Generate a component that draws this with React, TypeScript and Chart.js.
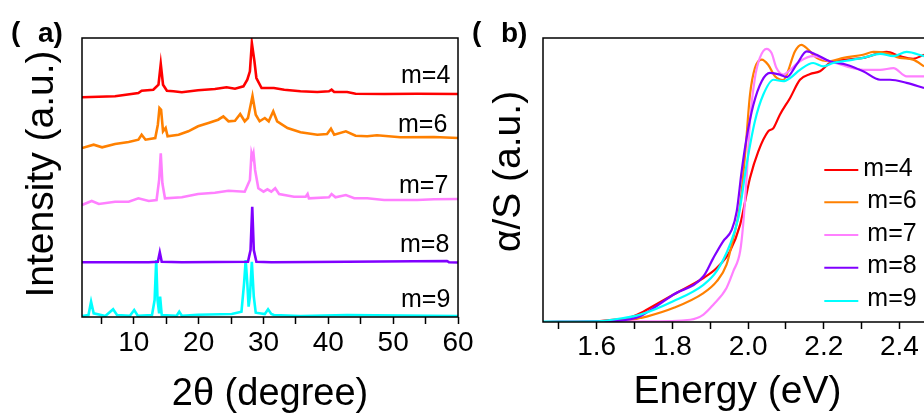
import React, { useEffect, useRef } from "react";
import { Chart, registerables } from "chart.js";

Chart.register(...registerables);

// ---------- shared ----------
const seriesLabels = ["m=4", "m=6", "m=7", "m=8", "m=9"];
const seriesColors = ["#ff0000", "#ff8000", "#ff80ff", "#8000ff", "#00ffff"];

// ---------- panel (a): XRD, 2θ (degree) vs intensity (a.u.) ----------
const xrdTheta_m4 = [2, 7.1, 10.7, 11.2, 13.0, 13.8, 14.15, 14.5, 15.1, 16.1, 17.4, 19.9, 22.5, 24.3, 25.6, 26.9, 27.5, 27.9, 28.2, 28.6, 28.9, 29.7, 31.6, 33.2, 35.7, 38.3, 40.1, 40.5, 40.9, 42.9, 44.2, 48.6, 53.7, 60];
const xrdInt_m4 = [0.7, 1.7, 5, 7.3, 8.3, 13.3, 34, 13.3, 7.3, 6.7, 5.7, 7.7, 9, 10.7, 9.3, 11.7, 18.3, 26.7, 55, 36.7, 20, 10, 10, 8.3, 6.7, 6, 6.7, 8.3, 6, 6, 4.3, 4, 4.3, 4];

const xrdTheta_m6 = [2, 3.8, 5.1, 7.1, 9.2, 10.7, 11.2, 11.8, 13.3, 13.7, 13.95, 14.2, 14.5, 14.9, 15.2, 16.9, 18.4, 19.9, 21.5, 23.0, 23.8, 24.6, 25.6, 26.4, 27.1, 27.6, 28.3, 28.8, 29.4, 30.2, 30.8, 31.5, 32.1, 33.7, 35.7, 38.3, 39.8, 40.4, 40.9, 42.7, 44.2, 46, 47.5, 51.1, 56.3, 60];
const xrdInt_m6 = [0, 3.3, 0.7, 4, 6, 8.3, 13.3, 8.3, 10, 23.3, 40, 38.3, 16.7, 20, 11.7, 13.3, 16.7, 21.7, 25, 28.3, 31.7, 26.7, 27.3, 34, 26.7, 30, 52, 33.3, 26.7, 30, 26.7, 36.7, 26.7, 20, 15.7, 13.3, 14, 19.3, 13.3, 16.7, 12.3, 11.7, 12.7, 10.7, 11, 10];

const xrdTheta_m7 = [2, 3.5, 4.6, 7.1, 9.2, 10.7, 12.3, 13.5, 13.9, 14.15, 14.4, 14.8, 17.4, 19.9, 22.5, 24.6, 27.1, 27.9, 28.15, 28.3, 28.45, 28.7, 29.2, 30, 30.6, 31.2, 31.8, 32.4, 34.7, 36.5, 36.8, 37, 40.1, 40.5, 41.1, 42.7, 44, 46, 48.6, 53.7, 56.3, 60];
const xrdInt_m7 = [0, 4, 1, 3.3, 3.3, 6.7, 4, 5, 25, 51.7, 21.7, 6.7, 7.7, 11, 12.3, 14.3, 13.3, 25, 51.7, 48, 51.7, 35, 16.7, 13.3, 15.7, 13.3, 16.7, 11, 8.3, 8.3, 11, 6.7, 7.7, 11, 7.7, 10, 6.7, 6.7, 5, 5, 5.7, 6];

const xrdTheta_m8 = [2, 12.3, 13.7, 14.0, 14.3, 17.4, 27.6, 28.0, 28.26, 28.5, 28.9, 31.2, 42.9, 58.3, 58.6, 60];
const xrdInt_m8 = [0.2, 0.2, 0.8, 10.2, 0.8, 0.2, 0.8, 12.5, 55.8, 12.5, 0.8, 0.2, 0.8, 1.5, 0.3, 0];

const xrdTheta_m9 = [2, 3.0, 3.4, 3.8, 5.6, 6.8, 7.4, 9.4, 10.05, 10.6, 12.8, 13.2, 13.45, 13.65, 13.9, 14.05, 14.3, 16.6, 17.0, 17.4, 19.9, 25.1, 26.6, 27.0, 27.25, 27.5, 27.7, 27.9, 28.2, 28.5, 28.8, 30.2, 30.7, 31.2, 31.6, 35.7, 42.9, 60];
const xrdInt_m9 = [0, 1, 14.3, 2.7, 0, 6.7, 1, 0.3, 6, 0.3, 1, 16, 56, 16, 2.7, 19.3, 1, 0.3, 4.3, 0.3, 1.3, 2, 4.3, 32.7, 56, 32.7, 9.3, 19.3, 54.3, 19.3, 3.3, 2, 6.7, 2, 1, 0, 1, 0];

const xrdOffsets = [219, 169, 112, 54.5, 1];
const xrdTicks = [5, 10, 15, 20, 25, 30, 35, 40, 45, 50, 55, 60];

// ---------- panel (b): absorption, Energy (eV) vs α/S (a.u.) ----------
const absEnergy_m4 = [1.458, 1.6, 1.635, 1.68, 1.723, 1.732, 1.802, 1.882, 1.917, 1.952, 1.979, 2.005, 2.027, 2.053, 2.067, 2.084, 2.111, 2.137, 2.164, 2.19, 2.216, 2.26, 2.304, 2.366, 2.401, 2.436, 2.465];
const absValue_m4 = [0, 0.002, 0.007, 0.012, 0.036, 0.043, 0.096, 0.155, 0.19, 0.249, 0.343, 0.507, 0.601, 0.671, 0.683, 0.73, 0.789, 0.853, 0.873, 0.883, 0.912, 0.924, 0.93, 0.951, 0.936, 0.927, 0.941];

const absEnergy_m6 = [1.458, 1.62, 1.679, 1.715, 1.732, 1.802, 1.882, 1.917, 1.943, 1.961, 1.979, 1.992, 2.005, 2.018, 2.036, 2.053, 2.071, 2.093, 2.102, 2.124, 2.141, 2.159, 2.181, 2.216, 2.252, 2.304, 2.331, 2.366, 2.401, 2.436, 2.465];
const absValue_m6 = [0, 0, 0.005, 0.014, 0.019, 0.049, 0.102, 0.143, 0.202, 0.296, 0.413, 0.589, 0.8, 0.894, 0.924, 0.906, 0.865, 0.852, 0.871, 0.953, 0.976, 0.959, 0.93, 0.918, 0.93, 0.941, 0.951, 0.947, 0.93, 0.924, 0.9];

const absEnergy_m7 = [1.458, 1.715, 1.847, 1.882, 1.908, 1.943, 1.961, 1.979, 1.987, 1.996, 2.005, 2.018, 2.031, 2.049, 2.062, 2.075, 2.093, 2.102, 2.137, 2.172, 2.216, 2.26, 2.304, 2.349, 2.384, 2.419, 2.465];
const absValue_m7 = [0, 0.002, 0.008, 0.026, 0.061, 0.12, 0.179, 0.249, 0.343, 0.507, 0.707, 0.859, 0.93, 0.962, 0.947, 0.894, 0.871, 0.877, 0.918, 0.936, 0.918, 0.9, 0.888, 0.888, 0.894, 0.865, 0.865];

const absEnergy_m8 = [1.458, 1.662, 1.715, 1.74, 1.802, 1.882, 1.908, 1.934, 1.957, 1.97, 1.983, 1.996, 2.014, 2.036, 2.058, 2.084, 2.102, 2.128, 2.155, 2.181, 2.216, 2.26, 2.304, 2.349, 2.375, 2.419, 2.465];
const absValue_m8 = [0, 0.005, 0.02, 0.04, 0.096, 0.161, 0.225, 0.284, 0.325, 0.39, 0.531, 0.648, 0.765, 0.848, 0.877, 0.871, 0.862, 0.906, 0.953, 0.941, 0.918, 0.906, 0.883, 0.853, 0.853, 0.842, 0.824];

const absEnergy_m9 = [1.458, 1.6, 1.635, 1.715, 1.802, 1.882, 1.917, 1.952, 1.974, 1.996, 2.018, 2.04, 2.067, 2.093, 2.111, 2.137, 2.172, 2.199, 2.225, 2.26, 2.304, 2.349, 2.384, 2.419, 2.465];
const absValue_m9 = [0.001, 0.002, 0.007, 0.026, 0.073, 0.131, 0.179, 0.272, 0.366, 0.554, 0.707, 0.8, 0.853, 0.848, 0.859, 0.888, 0.912, 0.9, 0.912, 0.92, 0.93, 0.944, 0.936, 0.951, 0.936];

const energyTicks = [1.5, 1.6, 1.7, 1.8, 1.9, 2.0, 2.1, 2.2, 2.3, 2.4];

const xrdSeries = [
  [xrdTheta_m4, xrdInt_m4],
  [xrdTheta_m6, xrdInt_m6],
  [xrdTheta_m7, xrdInt_m7],
  [xrdTheta_m8, xrdInt_m8],
  [xrdTheta_m9, xrdInt_m9],
];
const absSeries = [
  [absEnergy_m4, absValue_m4],
  [absEnergy_m6, absValue_m6],
  [absEnergy_m7, absValue_m7],
  [absEnergy_m8, absValue_m8],
  [absEnergy_m9, absValue_m9],
];

const FONT = '"Liberation Sans", Arial, Helvetica, sans-serif';

const panelAPlugin = {
  id: "panelA",
  afterDraw(chart: any) {
    const { ctx, chartArea } = chart;
    const { left, top, right, bottom } = chartArea;
    ctx.save();
    ctx.strokeStyle = "#000";
    ctx.lineWidth = 1.5;
    ctx.strokeRect(left, top, right - left, bottom - top);
    ctx.fillStyle = "#000";
    ctx.textBaseline = "alphabetic";
    // series labels
    ctx.font = `25px ${FONT}`;
    ctx.textAlign = "left";
    const lx = [401, 398, 399, 400, 401];
    const ly = [82.7, 131.7, 192.7, 251.7, 306.7];
    seriesLabels.forEach((t, i) => ctx.fillText(t, lx[i], ly[i]));
    // panel tag
    ctx.font = `bold 28px ${FONT}`;
    ctx.fillText("(", 11, 41);
    ctx.fillText("a)", 38, 41.7);
    // axis titles
    ctx.font = `38px ${FONT}`;
    ctx.textAlign = "center";
    ctx.fillText("2θ (degree)", (left + right) / 2, 405);
    ctx.font = `39px ${FONT}`;
    ctx.translate(53, 174);
    ctx.rotate(-Math.PI / 2);
    ctx.fillText("Intensity (a.u.)", 0, 0);
    ctx.restore();
  },
};

const panelBPlugin = {
  id: "panelB",
  afterDraw(chart: any) {
    const { ctx, chartArea } = chart;
    const { left, top, right, bottom } = chartArea;
    ctx.save();
    ctx.strokeStyle = "#000";
    ctx.lineWidth = 1.5;
    ctx.beginPath();
    ctx.moveTo(right, top);
    ctx.lineTo(left, top);
    ctx.lineTo(left, bottom);
    ctx.lineTo(right, bottom);
    ctx.stroke();
    // legend
    const rowsLine = [170, 202.3, 235, 267.7, 301];
    const rowsText = [176, 208.3, 240.7, 273.3, 306];
    const textX = [403.3, 407.3, 407.3, 407.3, 407.3];
    ctx.lineWidth = 2;
    ctx.font = `25px ${FONT}`;
    ctx.textAlign = "left";
    ctx.textBaseline = "alphabetic";
    seriesLabels.forEach((t, i) => {
      ctx.strokeStyle = seriesColors[i];
      ctx.beginPath();
      ctx.moveTo(364.3, rowsLine[i]);
      ctx.lineTo(398.3, rowsLine[i]);
      ctx.stroke();
      ctx.fillStyle = "#000";
      ctx.fillText(t, textX[i], rowsText[i]);
    });
    // panel tag
    ctx.fillStyle = "#000";
    ctx.font = `bold 28px ${FONT}`;
    ctx.fillText("(", 12, 41);
    ctx.fillText("b)", 41, 41.7);
    // axis titles
    ctx.font = `39px ${FONT}`;
    ctx.textAlign = "center";
    ctx.fillText("Energy (eV)", 277.5, 403);
    ctx.translate(59.7, 171.5);
    ctx.rotate(-Math.PI / 2);
    ctx.fillText("α/S (a.u.)", 0, 0);
    ctx.restore();
  },
};

export default function App() {
  const refA = useRef<HTMLCanvasElement | null>(null);
  const refB = useRef<HTMLCanvasElement | null>(null);

  useEffect(() => {
    if (!refA.current || !refB.current) return;

    const chartA = new Chart(refA.current, {
      type: "line",
      data: {
        datasets: xrdSeries.map(([xs, ys], i) => ({
          label: seriesLabels[i],
          data: xs.map((x, j) => ({ x, y: ys[j] + xrdOffsets[i] })),
          borderColor: seriesColors[i],
          backgroundColor: seriesColors[i],
          borderWidth: 2.6,
          pointRadius: 0,
          tension: 0,
          fill: false,
        })),
      },
      options: {
        animation: false,
        responsive: false,
        events: [],
        layout: { padding: { left: 0, top: 38, right: 22, bottom: 0 } },
        plugins: { legend: { display: false }, tooltip: { enabled: false } },
        scales: {
          x: {
            type: "linear",
            min: 2,
            max: 60,
            afterBuildTicks: (s: any) => {
              s.ticks = xrdTicks.map((v) => ({ value: v }));
            },
            afterFit: (s: any) => {
              s.height = 97;
            },
            ticks: {
              autoSkip: false,
              maxRotation: 0,
              padding: 2,
              color: "#000",
              font: { size: 28, family: FONT },
              callback: (v: any) => (Number(v) % 10 === 0 ? String(v) : ""),
            },
            grid: {
              display: true,
              drawOnChartArea: false,
              drawTicks: true,
              tickLength: 7,
              tickColor: "#000",
              tickWidth: 1.5,
            },
            border: { display: false },
          },
          y: {
            type: "linear",
            min: 0,
            max: 279,
            ticks: { display: false },
            grid: { display: false },
            border: { display: false },
            afterFit: (s: any) => {
              s.width = 82;
            },
          },
        },
      },
      plugins: [panelAPlugin],
    } as any);

    const chartB = new Chart(refB.current, {
      type: "line",
      data: {
        datasets: absSeries.map(([xs, ys], i) => ({
          label: seriesLabels[i],
          data: xs.map((x, j) => ({ x, y: ys[j] })),
          borderColor: seriesColors[i],
          backgroundColor: seriesColors[i],
          borderWidth: 2.2,
          pointRadius: 0,
          cubicInterpolationMode: "monotone",
          fill: false,
          order: 5 - i,
        })),
      },
      options: {
        animation: false,
        responsive: false,
        events: [],
        layout: { padding: { left: 0, top: 38, right: 8, bottom: 0 } },
        plugins: { legend: { display: false }, tooltip: { enabled: false } },
        scales: {
          x: {
            type: "linear",
            min: 1.458,
            max: 2.486,
            afterBuildTicks: (s: any) => {
              s.ticks = energyTicks.map((v) => ({ value: v }));
            },
            afterFit: (s: any) => {
              s.height = 92;
            },
            ticks: {
              autoSkip: false,
              maxRotation: 0,
              padding: 1,
              color: "#000",
              font: { size: 28, family: FONT },
              callback: (v: any) => {
                const n = Math.round(Number(v) * 10);
                return n % 2 === 0 && n >= 16 ? (n / 10).toFixed(1) : "";
              },
            },
            grid: {
              display: true,
              drawOnChartArea: false,
              drawTicks: true,
              tickLength: 7,
              tickColor: "#000",
              tickWidth: 1.5,
            },
            border: { display: false },
          },
          y: {
            type: "linear",
            min: 0,
            max: 1,
            ticks: { display: false },
            grid: { display: false },
            border: { display: false },
            afterFit: (s: any) => {
              s.width = 83;
            },
          },
        },
      },
      plugins: [panelBPlugin],
    } as any);

    return () => {
      chartA.destroy();
      chartB.destroy();
    };
  }, []);

  return (
    <div
      style={{
        position: "fixed",
        left: 0,
        top: 0,
        width: 924,
        height: 414,
        overflow: "hidden",
        background: "#fff",
      }}
    >
      <canvas
        ref={refA}
        width={480}
        height={414}
        style={{ position: "absolute", left: 0, top: 0, width: 480, height: 414 }}
      />
      <canvas
        ref={refB}
        width={480}
        height={414}
        style={{ position: "absolute", left: 460, top: 0, width: 480, height: 414 }}
      />
    </div>
  );
}
